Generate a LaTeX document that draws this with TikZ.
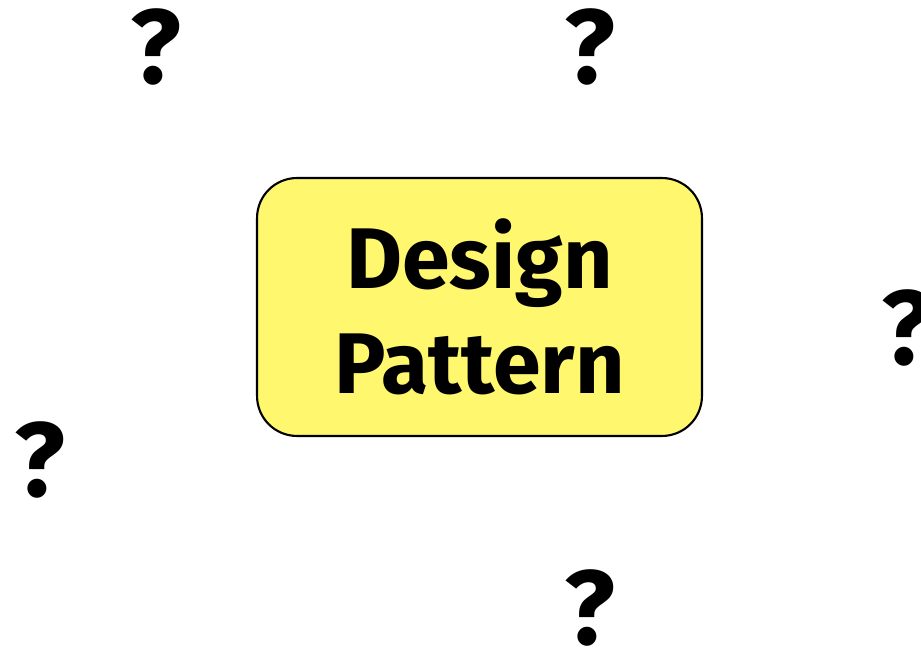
\documentclass[tikz,border=0pt]{standalone}
\usepackage{fontspec}
\setmainfont{Fira Sans}
\usepackage{xcolor}
\usepackage{tikz}
\usetikzlibrary{positioning}
\definecolor{patternyellow}{HTML}{FFF76D}

\begin{document}
\begin{tikzpicture}[
  x=0.02cm, y=-0.02cm,
  pattern/.style={rectangle, rounded corners=0.8cm, draw=black, fill=patternyellow,
    line width=1.2pt, minimum width=8.9cm, minimum height=5.16cm, align=center,
    font=\fontsize{49}{60}\selectfont\bfseries},
  unknown/.style={font=\fontsize{60}{64}\selectfont\bfseries, inner sep=0pt}
]
  \useasboundingbox (0,0) rectangle (921,651);

  % the box in the middle
  \node[pattern] (dp) at (479.5,307) {Design\\Pattern};

  % question marks around it
  \node[unknown] (q1) at (156,47) {?};
  \node[unknown] (q2) at (590,47) {?};
  \node[unknown] (q3) at (907,328) {?};
  \node[unknown] (q4) at (40,460) {?};
  \node[unknown] (q5) at (590,608) {?};
\end{tikzpicture}
\end{document}
